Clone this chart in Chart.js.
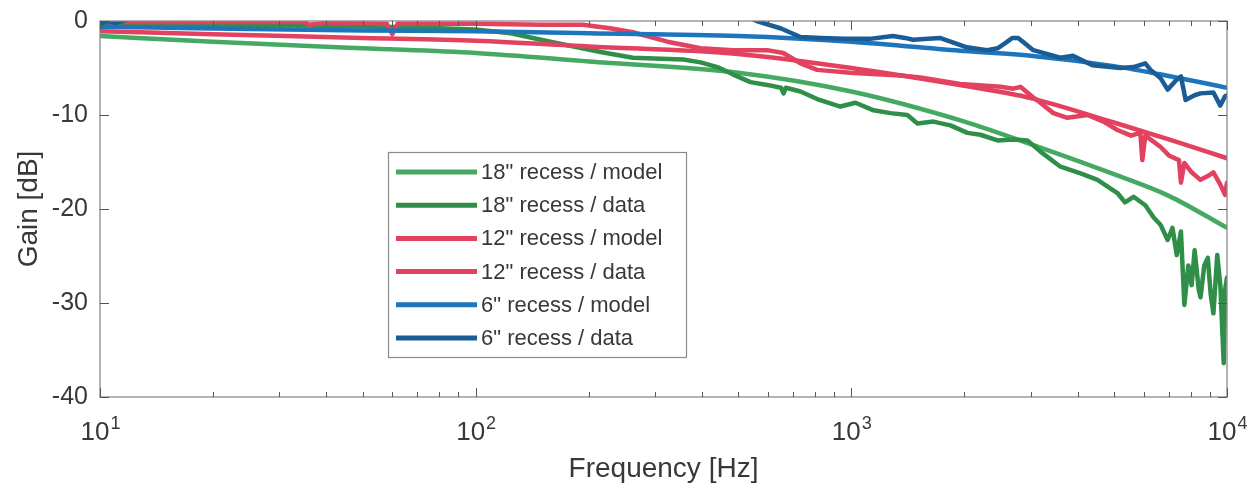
<!DOCTYPE html>
<html>
<head>
<meta charset="utf-8">
<script src="https://cdn.jsdelivr.net/npm/chart.js@4.4.1/dist/chart.umd.min.js"></script>
<style>
  html, body { margin: 0; padding: 0; background: #ffffff; }
  #wrap { width: 1254px; height: 487px; position: relative; }
</style>
</head>
<body>
<div id="wrap"><canvas id="c" width="1254" height="487"></canvas></div>
<script>
// ---------------- data (frequency in Hz, gain in dB) ----------------
const seriesLabels = ['18" recess / model', '18" recess / data', '12" recess / model', '12" recess / data', '6" recess / model', '6" recess / data'];

const model18Freq = [10, 20, 50, 100, 200, 500, 1000, 2000, 3000, 5000, 7000, 10000];
const model18Gain = [-1.6, -2.2, -2.9, -3.4, -4.3, -5.5, -7.5, -10.7, -13.1, -16.3, -18.6, -22.0];

const data18Freq = [10, 20, 40, 70, 100, 124, 158, 215, 262, 357, 397, 440, 485, 539, 597, 650, 660, 670, 732, 811, 935, 1026, 1146, 1271, 1410, 1500, 1653, 1835, 2037, 2206, 2450, 2700, 2943, 3188, 3604, 4077, 4522, 5110, 5350, 5640, 6060, 6380, 6660, 6950, 7160, 7350, 7540, 7700, 7890, 8050, 8200, 8410, 8500, 8700, 8890, 9050, 9200, 9420, 9600, 9800, 9880, 10000];
const data18Gain = [-0.3, -0.4, -0.5, -0.7, -0.9, -1.3, -2.2, -3.3, -3.9, -4.1, -4.4, -4.9, -5.7, -6.5, -6.8, -7.1, -7.7, -7.1, -7.5, -8.3, -9.1, -8.7, -9.5, -9.8, -10.0, -10.9, -10.7, -11.1, -11.9, -12.1, -12.7, -12.6, -12.7, -13.9, -15.5, -16.2, -16.9, -18.3, -19.3, -18.7, -19.6, -20.9, -21.7, -23.3, -22.0, -24.9, -22.4, -30.2, -26.0, -28.1, -24.4, -28.6, -29.4, -26.0, -25.2, -29.1, -31.1, -24.9, -28.1, -36.4, -28.6, -27.3];

const model12Freq = [10, 20, 50, 100, 200, 500, 1000, 2000, 3000, 5000, 7000, 10000];
const model12Gain = [-1.1, -1.4, -1.8, -2.1, -2.7, -3.5, -5.0, -6.9, -8.2, -10.8, -12.6, -14.6];

const data12Freq = [10, 20, 35, 36, 40, 58, 60, 62, 100, 150, 193, 230, 262, 324, 397, 485, 597, 659, 732, 811, 993, 1352, 1527, 1950, 2500, 2700, 2820, 3000, 3160, 3450, 3760, 4250, 4690, 5110, 5550, 5880, 5950, 6060, 6660, 7000, 7450, 7540, 7700, 8050, 8500, 8890, 9200, 9600, 9880, 10000];
const data12Gain = [-0.1, -0.1, -0.1, -0.4, -0.2, -0.3, -1.4, -0.3, -0.3, -0.4, -0.4, -0.8, -1.2, -2.2, -2.9, -3.1, -3.1, -3.4, -4.5, -5.2, -5.5, -5.8, -6.0, -6.7, -7.0, -7.2, -7.0, -7.9, -8.6, -9.8, -10.3, -10.0, -10.7, -11.6, -12.2, -11.9, -14.8, -12.2, -13.4, -14.3, -14.8, -17.2, -15.1, -16.1, -16.9, -16.5, -16.1, -17.4, -18.5, -17.2];

const model6Freq = [10, 20, 50, 100, 200, 500, 1000, 2000, 3000, 5000, 7000, 10000];
const model6Gain = [-0.6, -0.8, -1.0, -1.1, -1.3, -1.6, -2.2, -3.2, -3.7, -4.8, -5.85, -7.1];

const data6Freq = [10, 10.5, 11, 11.5, 12, 15, 50, 300, 450, 530, 560, 650, 732, 830, 960, 1120, 1290, 1390, 1460, 1720, 2030, 2300, 2450, 2580, 2680, 2780, 2900, 3050, 3600, 3890, 4380, 5200, 5640, 6060, 6260, 6660, 6950, 7320, 7540, 7760, 8200, 8500, 9200, 9600, 9880, 10000];
const data6Gain = [-0.3, 0.0, -0.2, 0.0, 0.3, 1.0, 1.5, 1.5, 1.0, 0.4, 0.0, -0.8, -1.7, -1.8, -1.9, -1.9, -1.6, -1.8, -2.0, -1.8, -2.8, -3.1, -2.9, -2.3, -1.8, -1.8, -2.4, -3.1, -3.9, -3.7, -4.7, -5.0, -4.9, -4.5, -5.2, -6.1, -7.3, -6.3, -5.9, -8.4, -7.9, -7.7, -7.6, -9.0, -8.0, -7.9];

const yTicks = [0, -10, -20, -30, -40];
const xDecades = [10, 100, 1000, 10000];
const xTickBase = '10';
const xTickExponents = ['1', '2', '3', '4'];

// ---------------- helpers ----------------
function pts(f, g) { return f.map((v, i) => ({ x: v, y: g[i] })); }

const colors = ['#45a964', '#2f8f48', '#e2415f', '#e2415f', '#1d76bd', '#1a5d96'];
const TEXT = '#383838';
const FONT = "'Liberation Sans', Arial, Helvetica, sans-serif";

const datasets = [
  { label: seriesLabels[0], data: pts(model18Freq, model18Gain), borderColor: colors[0], order: 5, cubicInterpolationMode: 'monotone' },
  { label: seriesLabels[1], data: pts(data18Freq, data18Gain), borderColor: colors[1], order: 4 },
  { label: seriesLabels[2], data: pts(model12Freq, model12Gain), borderColor: colors[2], order: 3, cubicInterpolationMode: 'monotone' },
  { label: seriesLabels[3], data: pts(data12Freq, data12Gain), borderColor: colors[3], order: 2 },
  { label: seriesLabels[4], data: pts(model6Freq, model6Gain), borderColor: colors[4], order: 1, cubicInterpolationMode: 'monotone' },
  { label: seriesLabels[5], data: pts(data6Freq, data6Gain), borderColor: colors[5], order: 0, clip: 0 }
].map(d => Object.assign({ borderWidth: 4.5, pointRadius: 0, fill: false, tension: d.cubicInterpolationMode ? 0.4 : 0, borderJoinStyle: 'round', borderCapStyle: 'round' }, d));

// frame + inward ticks + decade labels with superscript exponents
const framePlugin = {
  id: 'frame',
  afterDatasetsDraw(chart) {
    const { ctx, chartArea: a, scales } = chart;
    const xs = scales.x, ys = scales.y;
    ctx.save();
    ctx.strokeStyle = '#8a8a8a';
    ctx.lineWidth = 1.3;
    ctx.strokeRect(a.left, a.top, a.right - a.left, a.bottom - a.top);
    ctx.strokeStyle = '#555';
    ctx.lineWidth = 1;
    ctx.beginPath();
    for (let d = 0; d < xDecades.length; d++) {
      const base = xDecades[d];
      for (let m = 1; m <= 9; m++) {
        const v = base * m;
        if (v > xs.max * 1.0001) break;
        const px = Math.round(xs.getPixelForValue(v)) + 0.5;
        const len = m === 1 ? 9 : 5;
        ctx.moveTo(px, a.bottom); ctx.lineTo(px, a.bottom - len);
        ctx.moveTo(px, a.top); ctx.lineTo(px, a.top + len);
      }
    }
    yTicks.forEach(v => {
      const py = Math.round(ys.getPixelForValue(v)) + 0.5;
      ctx.moveTo(a.left, py); ctx.lineTo(a.left + 9, py);
      ctx.moveTo(a.right, py); ctx.lineTo(a.right - 9, py);
    });
    ctx.stroke();

    // x decade labels
    ctx.fillStyle = TEXT;
    ctx.textBaseline = 'alphabetic';
    ctx.textAlign = 'left';
    xDecades.forEach((v, i) => {
      const px = xs.getPixelForValue(v);
      ctx.font = '26px ' + FONT;
      const wb = ctx.measureText(xTickBase).width;
      ctx.font = '18px ' + FONT;
      const we = ctx.measureText(xTickExponents[i]).width;
      const x0 = px - (wb + we) / 2;
      ctx.font = '26px ' + FONT;
      ctx.fillText(xTickBase, x0, a.bottom + 43);
      ctx.font = '18px ' + FONT;
      ctx.fillText(xTickExponents[i], x0 + wb + 1, a.bottom + 32);
    });
    ctx.restore();
  }
};

// legend drawn inside the axes
const legendPlugin = {
  id: 'insideLegend',
  afterDraw(chart) {
    const { ctx } = chart;
    const box = { x: 388.5, y: 152.5, w: 298, h: 205 };
    ctx.save();
    ctx.fillStyle = '#ffffff';
    ctx.fillRect(box.x, box.y, box.w, box.h);
    ctx.strokeStyle = '#8a8a8a';
    ctx.lineWidth = 1.2;
    ctx.strokeRect(box.x, box.y, box.w, box.h);
    ctx.font = '22px ' + FONT;
    ctx.textBaseline = 'middle';
    ctx.textAlign = 'left';
    chart.data.datasets.forEach((ds, i) => {
      const cy = box.y + 19.5 + i * 33.2;
      ctx.strokeStyle = ds.borderColor;
      ctx.lineWidth = 5;
      ctx.lineCap = 'butt';
      ctx.beginPath();
      ctx.moveTo(396, cy); ctx.lineTo(477, cy);
      ctx.stroke();
      ctx.fillStyle = TEXT;
      ctx.fillText(ds.label, 481, cy + 1);
    });
    ctx.restore();
  }
};

new Chart(document.getElementById('c'), {
  type: 'line',
  data: { datasets },
  options: {
    responsive: false,
    animation: false,
    devicePixelRatio: 1,
    layout: { padding: { top: 21, right: 27, left: 0, bottom: 0 } },
    plugins: { legend: { display: false }, tooltip: { enabled: false } },
    scales: {
      x: {
        type: 'logarithmic',
        min: 10, max: 10000,
        grid: { display: false, drawTicks: false },
        border: { display: false },
        afterFit(s) { s.height = 90; s.paddingLeft = 0; s.paddingRight = 0; },
        afterBuildTicks(s) { s.ticks = xDecades.map(v => ({ value: v })); },
        ticks: { display: false },
        title: { display: true, text: 'Frequency [Hz]', color: TEXT, font: { family: FONT, size: 28 }, padding: { top: 0, bottom: 1 } }
      },
      y: {
        type: 'linear',
        min: -40, max: 0,
        grid: { display: false, drawTicks: false },
        border: { display: false },
        afterFit(s) { s.width = 100; s.paddingTop = 0; s.paddingBottom = 0; },
        afterBuildTicks(s) { s.ticks = yTicks.map(v => ({ value: v })); },
        ticks: { padding: 12, color: TEXT, font: { family: FONT, size: 25 } },
        title: { display: true, text: 'Gain [dB]', color: TEXT, font: { family: FONT, size: 28 }, padding: { top: 12, bottom: 0 } }
      }
    }
  },
  plugins: [framePlugin, legendPlugin]
});
</script>
</body>
</html>
